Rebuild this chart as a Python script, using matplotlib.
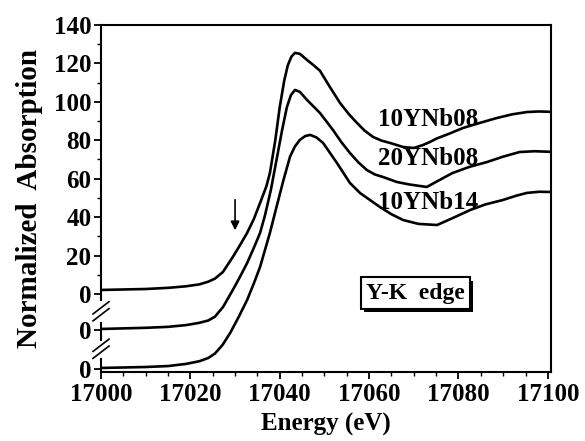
import matplotlib
matplotlib.use("Agg")
import matplotlib.pyplot as plt
import numpy as np
from matplotlib.ticker import MultipleLocator, FixedLocator
import matplotlib.transforms as mtransforms
import matplotlib.patheffects as pe

plt.rcParams['font.family'] = ['Liberation Serif', 'DejaVu Serif']
plt.rcParams['font.weight'] = 'bold'

# ---- data (values relative to each curve's own zero) ----
e_top = [17000, 17010, 17015, 17019, 17022, 17024, 17025.5, 17027.3, 17029.5, 17031,
         17032.7, 17034.2, 17035.6, 17037, 17037.8, 17039, 17040, 17041, 17041.8, 17042.6,
         17043.4, 17044.5, 17046.1, 17047.5, 17049, 17051.2, 17053.5, 17055.5, 17057.3, 17059,
         17060.9, 17062.8, 17064.7, 17067.6, 17070, 17072, 17073.5, 17075.2, 17078, 17081,
         17085, 17088.6, 17092, 17095.3, 17098, 17100.7]
v_top = [2.1, 2.6, 3.2, 4.0, 5.0, 6.4, 8.0, 11.5, 19.3, 25.0,
         31.8, 39.0, 47.4, 56.0, 63.0, 80.0, 97.3, 111.0, 119.0, 123.5,
         125.5, 125.0, 121.8, 119.2, 116.2, 107.8, 99.4, 93.5, 89.0, 85.0,
         81.7, 79.8, 78.6, 76.5, 76.0, 77.5, 79.0, 81.0, 83.5, 86.4,
         89.2, 91.6, 93.5, 94.7, 95.0, 94.8]

e_mid = [17000, 17010, 17015, 17019, 17022, 17024, 17025.5, 17027.3, 17029.5, 17031,
         17032.7, 17034.2, 17035.6, 17036.7, 17038, 17039.4, 17040.5, 17041.6, 17042.5, 17043.4,
         17044.5, 17046.1, 17049, 17051.9, 17053.8, 17055.7, 17057.6, 17059.5, 17061.3, 17063.1,
         17066.2, 17069, 17072.9, 17075.5, 17078.7, 17082.5, 17086.4, 17090, 17093.7, 17097,
         17100.7]
v_mid = [0.8, 1.4, 1.9, 2.8, 4.0, 5.2, 7.2, 12.2, 21.1, 27.5,
         35.1, 43.0, 50.8, 60.0, 73.0, 90.3, 104.0, 116.3, 122.5, 125.2,
         124.2, 120.0, 113.2, 104.4, 98.0, 92.4, 87.5, 83.5, 81.2, 79.9,
         77.3, 76.0, 74.7, 78.0, 82.0, 85.2, 87.7, 90.5, 92.9, 93.3,
         93.0]

e_bot = [17000, 17010, 17015, 17019, 17022, 17024, 17025.5, 17027.2, 17028.9, 17030.8,
         17032.7, 17034.2, 17035.6, 17037.8, 17039.3, 17040.8, 17042.3, 17043.4, 17044.5, 17045.7,
         17046.8, 17048.2, 17049.7, 17052.8, 17055.7, 17058, 17060.2, 17062.4, 17065, 17067.6,
         17071, 17075.2, 17078.5, 17082.6, 17086, 17089.9, 17093, 17095.3, 17098, 17100.7]
v_bot = [0.5, 1.0, 1.5, 2.6, 4.0, 5.7, 8.0, 12.5, 18.7, 27.0,
         35.9, 44.5, 53.1, 70.8, 84.5, 98.0, 110.5, 115.8, 119.2, 121.2,
         121.8, 120.5, 117.6, 107.2, 96.8, 91.5, 87.9, 84.3, 80.5, 77.5,
         75.5, 74.9, 78.3, 82.7, 85.6, 87.9, 90.2, 91.6, 92.2, 92.1]

names = ['10YNb08', '20YNb08', '10YNb14']
offsets = [0, -19, -39]
label_y = [90.6, 70.3, 47.6]
yticks_main = [0, 20, 40, 60, 80, 100, 120, 140]

fig = plt.figure(figsize=(5.85, 4.41), dpi=100)
ax = fig.add_axes([101/585, 1-372/441, 450/585, 347/441])

for e, v, off in zip([e_top, e_mid, e_bot], [v_top, v_mid, v_bot], offsets):
    ax.plot(e, np.array(v) + off, color='black', lw=1.9,
            solid_capstyle='round', solid_joinstyle='round')

for name, ly in zip(names, label_y):
    ax.text(17062.0, ly, name, fontsize=18, fontweight='bold', ha='left', va='center')

ax.set_xlim(17000, 17100.7)
ax.set_ylim(-40.6, 140)

ax.xaxis.set_major_locator(MultipleLocator(20))
ax.xaxis.set_minor_locator(MultipleLocator(5))
ax.set_yticks(yticks_main + offsets[1:])
ax.set_yticklabels([str(t) for t in yticks_main] + ['0', '0'])
ax.yaxis.set_minor_locator(FixedLocator(list(range(10, 140, 20))))

ax.tick_params(axis='both', which='major', direction='out', length=5, width=1.3, labelsize=18, pad=2)
ax.tick_params(axis='x', which='major', pad=3)
ax.tick_params(axis='both', which='minor', direction='out', length=3, width=1.0)
for lab in ax.get_xticklabels() + ax.get_yticklabels():
    lab.set_fontweight('bold')

for s in ['top', 'right', 'bottom']:
    ax.spines[s].set_linewidth(1.5)
ax.spines['left'].set_visible(False)

# broken left spine
trans = mtransforms.blended_transform_factory(ax.transAxes, ax.transData)
for y0, y1 in [(140, -3), (-15, -24), (-34, -40.6)]:
    ax.plot([0, 0], [y0, y1], transform=trans, color='black', lw=1.5, clip_on=False)
dx = 8 / 450
for yc in [-9, -28.5]:
    for dyc in [-1.8, 1.8]:
        ax.plot([-dx, dx], [yc + dyc - 3.2, yc + dyc + 3.2], transform=trans,
                color='black', lw=1.2, clip_on=False)

# arrow
ax.annotate('', xy=(17030, 31.7), xytext=(17030, 50.5),
            arrowprops=dict(arrowstyle='-|>', color='black', lw=1.2, mutation_scale=13))

# Y-K edge box with shadow
t = ax.text(17070.3, 0.5, 'Y-K  edge', fontsize=17, fontweight='bold', ha='center', va='center',
            bbox=dict(boxstyle='square,pad=0.22', fc='white', ec='black', lw=1.5))
t.get_bbox_patch().set_path_effects([
    pe.SimplePatchShadow(offset=(2.5, -2.5), shadow_rgbFace='black', alpha=1.0),
    pe.Normal()])

ax.set_xlabel('Energy (eV)', fontsize=18, fontweight='bold', labelpad=5)
ax.set_ylabel('Normalized  Absorption', fontsize=21, fontweight='bold', labelpad=8)

fig.savefig('out.png', dpi=100)
